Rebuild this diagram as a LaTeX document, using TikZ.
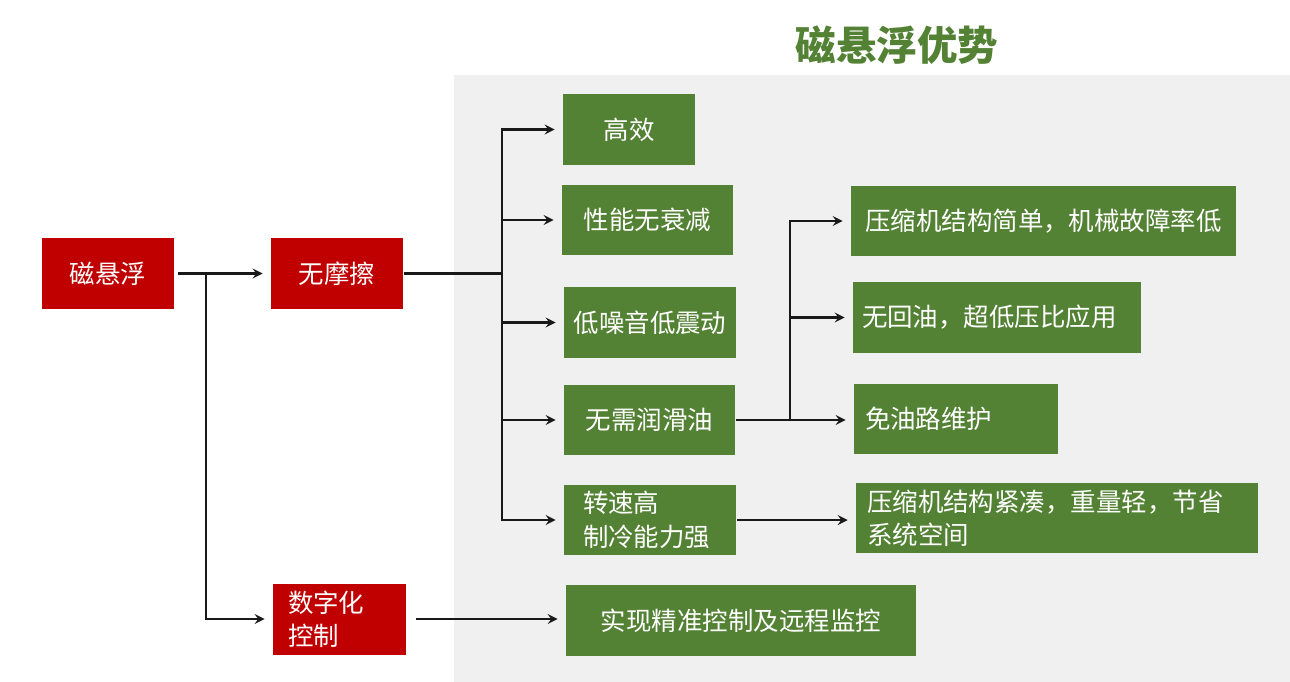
\documentclass[tikz,border=0pt]{standalone}
\usepackage{fontspec}
\setmainfont{Noto Sans CJK SC}
\usetikzlibrary{arrows,positioning}
\definecolor{boxred}{HTML}{C00000}
\definecolor{boxgreen}{HTML}{548235}
\definecolor{panelgrey}{HTML}{F0F0F0}

\begin{document}
\begin{tikzpicture}[x=0.02cm, y=-0.02cm, >=stealth, line width=1.5pt]
    % Styles
    \tikzstyle{redbox} = [rectangle, fill=boxred, text=white, minimum height=1.42cm, inner ysep=0.1cm, font=\fontsize{14.5pt}{19pt}\selectfont]
    \tikzstyle{greenbox} = [rectangle, fill=boxgreen, text=white, minimum height=1.42cm, inner ysep=0.1cm, font=\fontsize{14.5pt}{19pt}\selectfont]
    \tikzstyle{line} = [draw=black!90, ->, shorten >=0.14cm]
    \tikzstyle{wire} = [draw=black!90]

    % Background and panel
    \fill[white] (0,0) rectangle (1290,682);
    \fill[panelgrey] (454,75) rectangle (1290,682);
    \node [text=boxgreen, font=\fontsize{23pt}{23pt}\selectfont\bfseries] (title) at (897,45) {磁悬浮优势};

    % Nodes
    \node [redbox, minimum width=2.64cm] (maglev) at (108,273.5) {磁悬浮};
    \node [redbox, minimum width=2.64cm] (nofric) at (337,273.5) {无摩擦};
    \node [redbox, text width=2.06cm, inner xsep=0.3cm, align=left] (digital) at (339.5,619) {数字化\\控制};

    \node [greenbox, minimum width=2.64cm] (eff) at (629,129.5) {高效};
    \node [greenbox, minimum width=3.42cm] (perf) at (647.5,220) {性能无衰减};
    \node [greenbox, minimum width=3.44cm, inner xsep=0pt] (noise) at (650,322.5) {低噪音低震动};
    \node [greenbox, minimum width=3.42cm] (oil) at (649.5,420) {无需润滑油};
    \node [greenbox, text width=2.68cm, inner xsep=0.38cm, align=left] (speed) at (650,520) {转速高\\制冷能力强};

    \node [greenbox, minimum width=7.7cm] (simple) at (1043.5,221) {压缩机结构简单，机械故障率低};
    \node [greenbox, text width=5.4cm, inner xsep=0.18cm, align=left] (noreturn) at (997,317.5) {无回油，超低压比应用};
    \node [greenbox, text width=3.64cm, inner xsep=0.22cm, align=left] (maint) at (956,419) {免油路维护};
    \node [greenbox, text width=7.6cm, inner xsep=0.22cm, align=left] (compact) at (1057,518) {压缩机结构紧凑，重量轻，节省\\系统空间};
    \node [greenbox, minimum width=7cm] (remote) at (741,620.5) {实现精准控制及远程监控};

    % Branch points
    \coordinate (split) at (206,273.5);
    \coordinate (trunk) at (502,273.5);
    \coordinate (oilsplit) at (790,420);

    % Edges
    \path [line, shorten <=0.06cm] (maglev) -- (nofric);
    \path [line] (split) |- (digital.west);
    \path [wire] (nofric) -- (trunk);
    \path [line] (trunk) |- (eff.west);
    \path [line] (trunk) |- (perf.west);
    \path [line] (trunk) |- (noise.west);
    \path [line] (trunk) |- (oil.west);
    \path [line] (trunk) |- (speed.west);

    \path [line] (oil.east) -- (oil.east -| maint.west);
    \path [line] (oilsplit) |- (simple.west);
    \path [line] (oilsplit) |- (noreturn.west);
    \path [line] (speed.east) -- (speed.east -| compact.west);
    \path [line, shorten <=0.18cm] (digital.east) -- (digital.east -| remote.west);

\end{tikzpicture}
\end{document}
